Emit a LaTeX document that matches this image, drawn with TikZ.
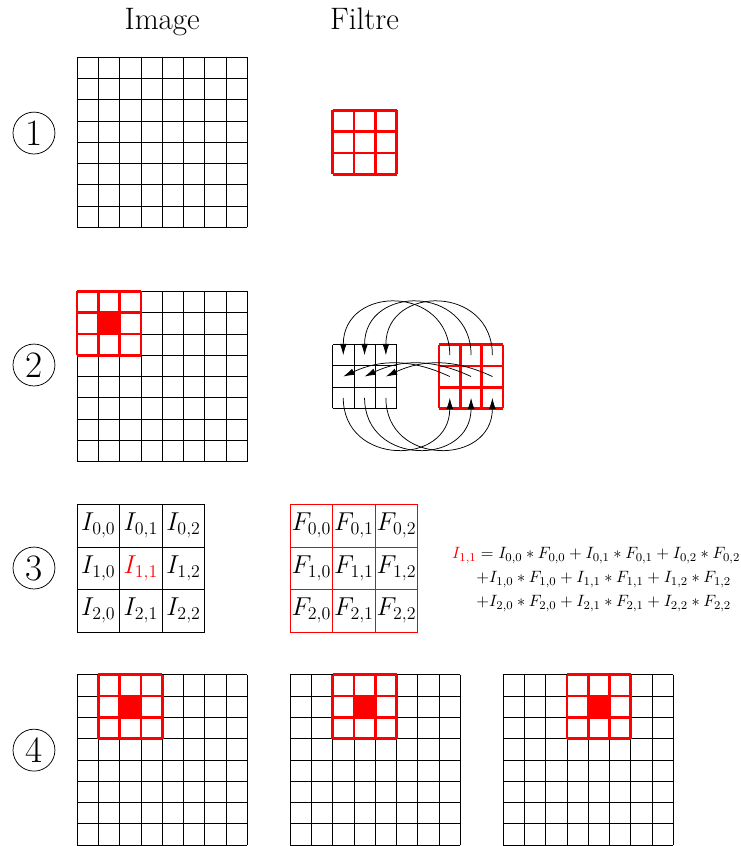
\documentclass[tikz,border=0pt]{standalone}
\usepackage{amsmath,amssymb}
\usepackage{xcolor}
\usepackage{tikz}
\usetikzlibrary{arrows.meta,calc}

\begin{document}
\begin{tikzpicture}[scale=0.5,
    >={Latex[length=7.5pt,width=4.5pt]},
    fin/.style={line width=0.5pt},
    filtre/.style={red, line width=1.8pt},
    etape/.style={circle, draw, line width=0.5pt, inner sep=0pt, minimum size=28pt, font=\Huge},
    titre/.style={font=\huge, anchor=base},
    case/.style={font=\fontsize{16.6}{20}\selectfont, inner sep=0pt}]
    \useasboundingbox (-3.615,2.676) rectangle (31.127,-37.04);

    % Titles
    \node[titre] (image) at (4,1.29) {Image};
    \node[titre] (filtre) at (13.5,1.29) {Filtre};

    % Step numbers
    \node[etape] (e1) at (-2.02,-3.57) {1};
    \node[etape] (e2) at (-2.02,-14.46) {2};
    \node[etape] (e3) at (-2.02,-23.99) {3};
    \node[etape] (e4) at (-2.02,-32.54) {4};

    % Step 1
    \draw[fin] (0,0) grid (8,-8);
    \draw[filtre, shift={(12,-2.5)}] (0,0) grid (3,-3);

    % Step 2
    \draw[fin] (0,-11) grid (8,-19);
    \draw[filtre] (0,-11) grid (3,-14);
    \fill[red] (1,-12) rectangle (2,-13);
    \draw[fin, shift={(12,-13.5)}] (0,0) grid (3,-3);
    \draw[filtre, shift={(17,-13.5)}] (0,0) grid (3,-3);
    \foreach \r in {0,1,2}
        \foreach \c in {0,1,2} {
            \coordinate (b\r\c) at (12.5+\c,-14-\r);
            \coordinate (r\r\c) at (17.5+\c,-14-\r);
        }
    \foreach \c in {0,1,2} {
        \draw[->, fin] (r0\c) to[out=90,in=90,looseness=1.7] (b0\c);
        \draw[->, fin] (r1\c) to[bend right=25] (b1\c);
        \draw[->, fin] (b2\c) to[out=-90,in=-90,looseness=1.65] (r2\c);
    }

    % Step 3
    \draw[fin, step=2, shift={(0,-21)}] (0,0) grid (6,-6);
    \draw[fin, red, step=2, shift={(10,-21)}] (0,0) grid (6,-6);
    \foreach \r in {0,1,2}
        \foreach \c in {0,1,2} {
            \ifnum\r\c=11
                \node[case, red] (i\r\c) at (1+2*\c,-22-2*\r) {$I_{\r,\c}$};
            \else
                \node[case] (i\r\c) at (1+2*\c,-22-2*\r) {$I_{\r,\c}$};
            \fi
            \node[case] (f\r\c) at (11+2*\c,-22-2*\r) {$F_{\r,\c}$};
        }
    \node[anchor=west, inner sep=0pt, font=\fontsize{10.8}{13}\selectfont] (somme) at (17.6,-24.5)
        {$\begin{aligned}
            \textcolor{red}{I_{1,1}} &= I_{0,0}*F_{0,0}+I_{0,1}*F_{0,1}+I_{0,2}*F_{0,2}\\
            &{+}I_{1,0}*F_{1,0}+I_{1,1}*F_{1,1}+I_{1,2}*F_{1,2}\\
            &{+}I_{2,0}*F_{2,0}+I_{2,1}*F_{2,1}+I_{2,2}*F_{2,2}
        \end{aligned}$};

    % Step 4
    \foreach \x/\p in {0/1, 10/12, 20/23} {
        \draw[fin] (\x,-29) grid (\x+8,-37);
        \draw[filtre] (\p,-29) grid (\p+3,-32);
        \fill[red] (\p+1,-30) rectangle (\p+2,-31);
    }
\end{tikzpicture}
\end{document}
